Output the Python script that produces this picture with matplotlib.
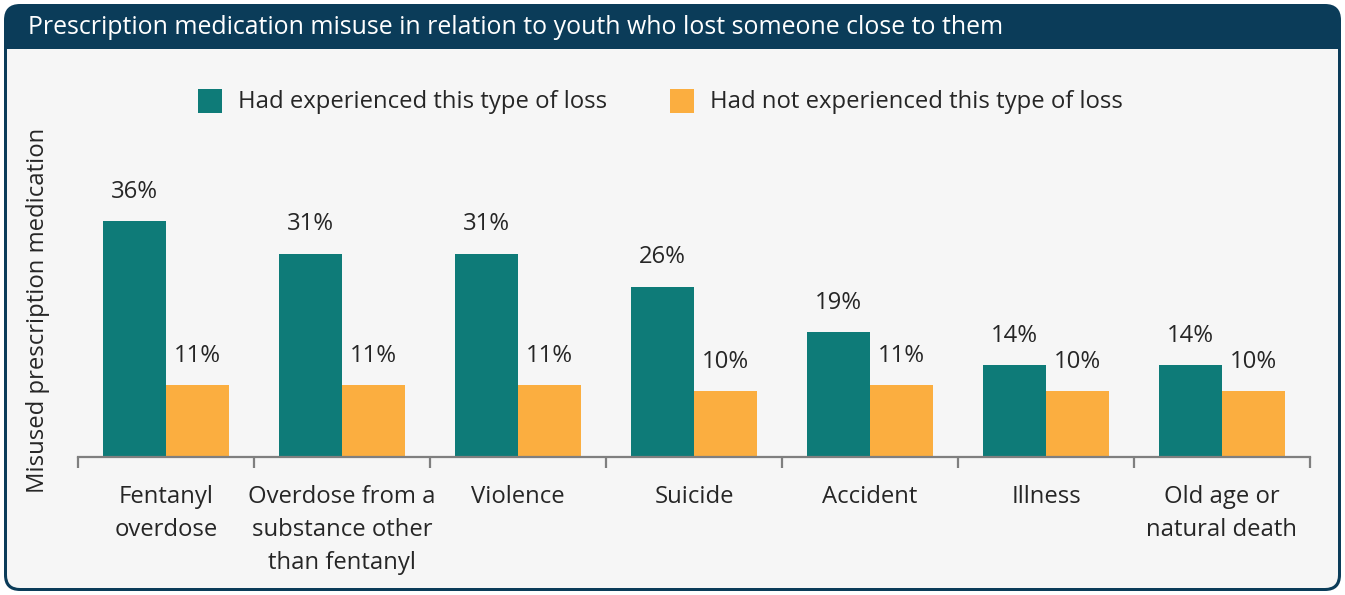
import matplotlib
matplotlib.use("Agg")
import matplotlib.pyplot as plt
from matplotlib.patches import FancyBboxPatch, Rectangle
import numpy as np

categories = ["Fentanyl\noverdose", "Overdose from a\nsubstance other\nthan fentanyl",
              "Violence", "Suicide", "Accident", "Illness", "Old age or\nnatural death"]
experienced = [36, 31, 31, 26, 19, 14, 14]
not_experienced = [11, 11, 11, 10, 11, 10, 10]
series_names = ["Had experienced this type of loss", "Had not experienced this type of loss"]

TEAL = "#0e7b78"
ORANGE = "#fbae40"
NAVY = "#0b3c59"
PANEL = "#f6f6f6"
TEXT = "#262626"
FS = 17.2

plt.rcParams["font.family"] = ["Open Sans", "DejaVu Sans"]

W, H = 1345, 595
fig = plt.figure(figsize=(W / 100, H / 100), dpi=100)
fig.patch.set_facecolor("white")

# Framed panel with a navy header band
bg = fig.add_axes([0, 0, 1, 1])
bg.set_xlim(0, W)
bg.set_ylim(H, 0)
bg.axis("off")
bg.add_patch(FancyBboxPatch((4, 4), W - 8, H - 8, boxstyle="round,pad=0,rounding_size=16",
                            facecolor=NAVY, edgecolor=NAVY, lw=0))
bg.add_patch(FancyBboxPatch((7, 30), W - 14, H - 37, boxstyle="round,pad=0,rounding_size=13",
                            facecolor=PANEL, edgecolor="none", lw=0))
bg.add_patch(Rectangle((7, 30), W - 14, 19, facecolor=NAVY, edgecolor="none"))
bg.text(28, 27, "Prescription medication misuse in relation to youth who lost someone close to them",
        color="white", fontsize=17.9, va="center", ha="left")

# Legend
for sx, tx, col, name in [(198, 238, TEAL, series_names[0]), (670, 710, ORANGE, series_names[1])]:
    bg.add_patch(Rectangle((sx, 89), 24, 24, facecolor=col, edgecolor="none"))
    bg.text(tx, 102, name, color=TEXT, fontsize=FS, va="center", ha="left")

bg.text(38, 310, "Misused prescription medication", rotation=90, color=TEXT,
        fontsize=FS, va="center", ha="center")

# Bar chart area
ax_left, ax_right, ax_bottom, ax_top = 78, 1310, 457, 150
px_per_unit = 236 / 36
ymax = (ax_bottom - ax_top) / px_per_unit
ax = fig.add_axes([ax_left / W, 1 - ax_bottom / H, (ax_right - ax_left) / W, (ax_bottom - ax_top) / H])
ax.set_facecolor("none")
n = len(categories)
x = np.arange(n)
bw = 63 / 176
b1 = ax.bar(x - bw / 2, experienced, bw, color=TEAL)
b2 = ax.bar(x + bw / 2, not_experienced, bw, color=ORANGE)
ax.set_xlim(-0.5, n - 0.5)
ax.set_ylim(0, ymax)
for bars, vals in [(b1, experienced), (b2, not_experienced)]:
    for r, v in zip(bars, vals):
        ax.annotate(f"{v}%", (r.get_x() + r.get_width() / 2, v), xytext=(0, 12.5),
                    textcoords="offset points", ha="center", va="bottom",
                    fontsize=FS, color=TEXT)

for s in ["top", "right", "left"]:
    ax.spines[s].set_visible(False)
ax.spines["bottom"].set_color("#7f7f7f")
ax.spines["bottom"].set_linewidth(1.6)
ax.set_yticks([])
ax.set_xticks(np.arange(n + 1) - 0.5)
ax.tick_params(axis="x", length=8, width=1.6, color="#7f7f7f", labelbottom=False)

# Category names below the axis
label_y = -(485 - ax_bottom) / px_per_unit
for i, c in enumerate(categories):
    ax.text(i, label_y, c, ha="center", va="top", fontsize=FS, color=TEXT, linespacing=1.49)

fig.savefig("out.png", dpi=100, facecolor="white")
